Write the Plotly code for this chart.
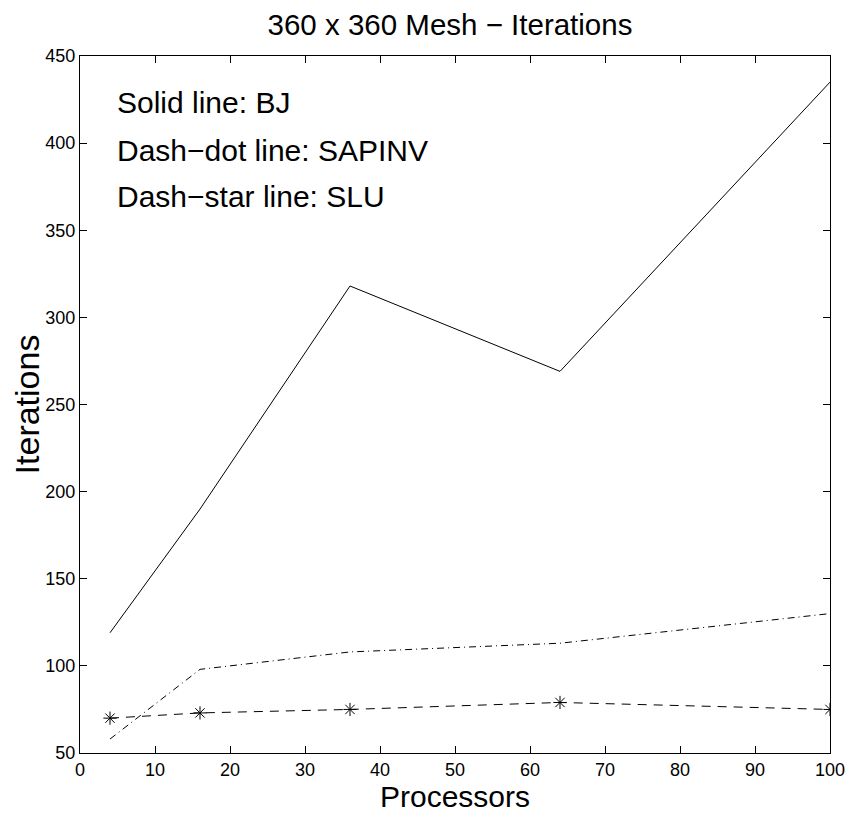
import plotly.graph_objects as go

processors = [4, 16, 36, 64, 100]
bj = [119, 190, 318, 269, 435]
sapinv = [58, 98, 108, 113, 130]
slu = [70, 73, 75, 79, 75]

x_ticks = list(range(0, 101, 10))
y_ticks = list(range(50, 451, 50))

title_text = "360 x 360 Mesh \u2212 Iterations"
x_label = "Processors"
y_label = "Iterations"
notes = ["Solid line: BJ", "Dash\u2212dot line: SAPINV", "Dash\u2212star line: SLU"]

FONT = "Liberation Sans, Arial, sans-serif"

# page body has an 8px margin, so the figure is offset by 8px
OFF = 8
W, H = 861 - OFF, 817 - OFF
L, R, T, B = 80 - OFF, 31, 56 - OFF, 64
plot_w = W - L - R
plot_h = H - T - B

fig = go.Figure()
fig.add_trace(go.Scatter(x=processors, y=bj, mode="lines",
                         line=dict(color="black", width=1), showlegend=False))
fig.add_trace(go.Scatter(x=processors, y=sapinv, mode="lines",
                         line=dict(color="black", width=1, dash="7px,4px,1px,4px"),
                         showlegend=False))
fig.add_trace(go.Scatter(x=processors, y=slu, mode="lines+markers",
                         line=dict(color="black", width=1, dash="9px,7px"),
                         marker=dict(symbol="asterisk-open", size=11, color="black",
                                     line=dict(color="black", width=1)),
                         showlegend=False))


def py(screen_y):
    return (H - B - (screen_y - OFF)) / plot_h


for txt, ypix in zip(notes, [103, 150, 197]):
    fig.add_annotation(x=(117 - OFF - 2 - L) / plot_w, y=py(ypix), xref="paper", yref="paper",
                       text=txt, showarrow=False, xanchor="left", yanchor="middle",
                       font=dict(family=FONT, size=30, color="black"))

fig.update_layout(
    width=W, height=H,
    margin=dict(l=L, r=R, t=T, b=B, autoexpand=False),
    paper_bgcolor="white", plot_bgcolor="white",
    font=dict(family=FONT, color="black"),
    title=dict(text=title_text, x=(450 - OFF) / W, xanchor="center",
               y=1 - (25 - OFF) / H, yanchor="middle",
               font=dict(family=FONT, size=29.5, color="black")),
    xaxis=dict(range=[0, 100], tickvals=x_ticks, ticks="inside", ticklen=7,
               showline=True, linecolor="black", linewidth=1, mirror="ticks",
               showgrid=False, zeroline=False, tickcolor="black", automargin=False,
               tickfont=dict(family=FONT, size=18, color="black"),
               title=dict(text=x_label, font=dict(family=FONT, size=30, color="black"),
                          standoff=4)),
    yaxis=dict(range=[50, 450], tickvals=y_ticks, ticks="inside", ticklen=7,
               showline=True, linecolor="black", linewidth=1, mirror="ticks",
               showgrid=False, zeroline=False, tickcolor="black", automargin=False,
               tickfont=dict(family=FONT, size=18, color="black"),
               title=dict(text=y_label, font=dict(family=FONT, size=34, color="black"),
                          standoff=14)),
)

fig.write_html("out.html")
